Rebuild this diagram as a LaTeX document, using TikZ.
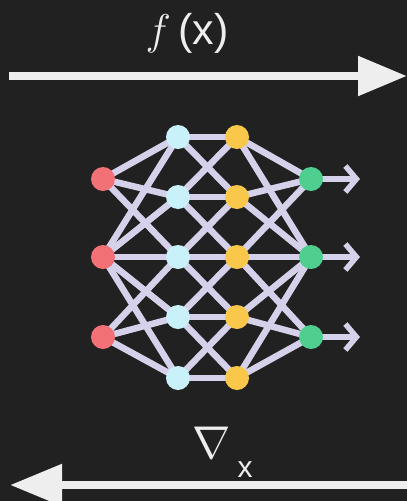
\documentclass[tikz,border=0pt]{standalone}
\usepackage{fix-cm}
\usepackage{fontspec}
\setsansfont{Liberation Sans}
\usetikzlibrary{arrows.meta}
\definecolor{bg}{HTML}{212121}
\definecolor{arrowc}{HTML}{EEEEEE}
\definecolor{edgec}{HTML}{D6D1EA}
\definecolor{inc}{HTML}{F27177}
\definecolor{hida}{HTML}{C9F1FA}
\definecolor{hidb}{HTML}{F9C84A}
\definecolor{outc}{HTML}{4FCF8F}
\begin{document}
\begin{tikzpicture}[x=1pt,y=-1pt,
  neuron/.style={circle,inner sep=0pt,minimum size=24pt,fill=#1},
  edge/.style={draw=edgec,line width=6.5pt},
  bigarrow/.style={draw=arrowc,line width=8.5pt},
  lbl/.style={text=arrowc,inner sep=0pt}]
\fill[bg] (0,0) rectangle (407,501);
\useasboundingbox (0,0) rectangle (407,501);
% coordinates of layers
\foreach \i/\y in {1/179,2/257,3/337}{
  \coordinate (r\i) at (103,\y);
  \coordinate (g\i) at (311,\y);
}
\foreach \i/\y in {1/137,2/197,3/257,4/317,5/378}{
  \coordinate (b\i) at (178,\y);
  \coordinate (y\i) at (237,\y);
}
% edges input -> hidden a, hidden b -> output
\foreach \j in {1,2,3}{\draw[edge] (r1) -- (b\j); \draw[edge] (g1) -- (y\j);}
\foreach \j in {1,...,5}{\draw[edge] (r2) -- (b\j); \draw[edge] (g2) -- (y\j);}
\foreach \j in {3,4,5}{\draw[edge] (r3) -- (b\j); \draw[edge] (g3) -- (y\j);}
% hidden a -> hidden b
\foreach \j in {1,...,5}{\draw[edge] (b\j) -- (y\j);}
\foreach \j/\k in {1/2,2/3,3/4,4/5}{\draw[edge] (b\j) -- (y\k); \draw[edge] (b\k) -- (y\j);}
% output arrows
\foreach \i/\y in {1/179,2/257,3/337}{
  \coordinate (o\i) at (360,\y);
  \draw[edge,-{Straight Barb[length=11pt,width=26pt,line width=5.5pt]}] (g\i) -- (o\i);
}
% neurons
\foreach \i in {1,2,3}{
  \node[neuron=inc] (R\i) at (r\i) {};
  \node[neuron=outc] (G\i) at (g\i) {};
}
\foreach \i in {1,...,5}{
  \node[neuron=hida] (B\i) at (b\i) {};
  \node[neuron=hidb] (Y\i) at (y\i) {};
}
% big arrows
\coordinate (fs) at (9,76);
\coordinate (fe) at (407,76);
\draw[bigarrow,-{Triangle[length=49pt,width=38pt]}] (fs) -- (fe);
\coordinate (bs) at (407,485);
\coordinate (be) at (10,485);
\draw[bigarrow,-{Triangle[length=52pt,width=40pt]}] (bs) -- (be);
% labels
\node[lbl] (fx) at (187,33) {\fontsize{43}{50}\selectfont$f$\,\sffamily(x)};
\node[lbl] (nab) at (212,443) {\fontsize{46}{50}\selectfont$\nabla$};
\node[lbl] (sub) at (245,470) {\fontsize{30}{36}\selectfont\sffamily x};
\end{tikzpicture}
\end{document}
